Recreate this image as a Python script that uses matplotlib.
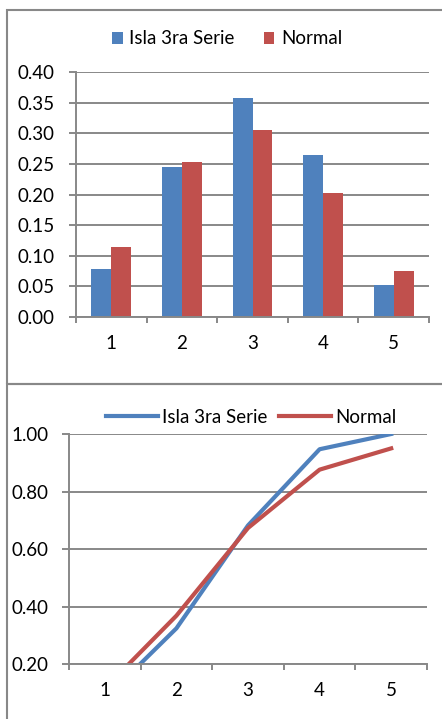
import matplotlib

matplotlib.use("Agg")
import matplotlib.pyplot as plt
import numpy as np
from matplotlib.patches import Rectangle

# values
categories = [1, 2, 3, 4, 5]
series_names = ["Isla 3ra Serie", "Normal"]
isla_pmf = [0.079, 0.245, 0.358, 0.265, 0.053]
normal_pmf = [0.115, 0.253, 0.305, 0.203, 0.075]
isla_cdf = [0.079, 0.324, 0.682, 0.947, 1.000]
normal_cdf = [0.115, 0.368, 0.673, 0.876, 0.950]
bar_ticks = [0.00, 0.05, 0.10, 0.15, 0.20, 0.25, 0.30, 0.35, 0.40]
line_ticks = [0.20, 0.40, 0.60, 0.80, 1.00]

BLUE = "#4F81BD"
RED = "#C0504D"
GRID = "#888888"

W, H = 442, 719
plt.rcParams["font.family"] = ["Lato", "DejaVu Sans"]
plt.rcParams["font.size"] = 13.5

fig = plt.figure(figsize=(W / 100, H / 100), dpi=100)


def px_axes(left, top, right, bottom):
    """Axes placed by pixel box (image coords, y down)."""
    return fig.add_axes([left / W, 1 - bottom / H, (right - left) / W, (bottom - top) / H])


def chart_frame(left, top, right, bottom):
    fig.patches.append(Rectangle((left / W, 1 - bottom / H), (right - left) / W,
                                 (bottom - top) / H, transform=fig.transFigure,
                                 fill=False, edgecolor=GRID, linewidth=1.5))


def style_axes(ax, ticks, fmt, ypad):
    x = np.arange(len(categories))
    ax.set_xlim(-0.5, len(categories) - 0.5)
    ax.set_ylim(ticks[0], ticks[-1])
    ax.set_yticks(ticks)
    ax.set_yticklabels([fmt.format(t) for t in ticks])
    ax.set_xticks(x)
    ax.set_xticklabels([str(c) for c in categories])
    ax.set_xticks(np.arange(len(categories) + 1) - 0.5, minor=True)
    ax.tick_params(axis="x", which="major", length=0, pad=13)
    ax.tick_params(axis="x", which="minor", length=4.3, width=1.4, color=GRID)
    ax.tick_params(axis="y", length=5, width=1.4, color=GRID, pad=ypad)
    ax.grid(axis="y", color=GRID, linewidth=1.4)
    ax.set_axisbelow(True)
    for s in ("top", "right"):
        ax.spines[s].set_visible(False)
    for s in ("left", "bottom"):
        ax.spines[s].set_color(GRID)
        ax.spines[s].set_linewidth(1.4)


# chart borders
chart_frame(7, 10, 460, 384)
chart_frame(7, 384, 460, 740)

# top: probability bars
ax1 = px_axes(76, 72, 429, 317)
x = np.arange(len(categories))
bw = 0.283
ax1.bar(x - bw / 2, isla_pmf, bw, color=BLUE, label=series_names[0])
ax1.bar(x + bw / 2, normal_pmf, bw, color=RED, label=series_names[1])
style_axes(ax1, bar_ticks, "{:.2f}", 10.5)
ax1.legend(loc="center", bbox_to_anchor=(227 / W, 1 - 39 / H), bbox_transform=fig.transFigure,
           ncol=2, frameon=False, handlelength=0.57, handleheight=0.57,
           handletextpad=0.35, columnspacing=1.55, borderpad=0)

# bottom: cumulative lines
ax2 = px_axes(69, 434, 427, 664)
ax2.plot(x, isla_cdf, color=BLUE, linewidth=3, label=series_names[0])
ax2.plot(x, normal_cdf, color=RED, linewidth=3, label=series_names[1])
style_axes(ax2, line_ticks, "{:.2f}", 9.5)
ax2.legend(loc="center", bbox_to_anchor=(251 / W, 1 - 417 / H), bbox_transform=fig.transFigure,
           ncol=2, frameon=False, handlelength=2.8, handletextpad=0.2,
           columnspacing=0.6, borderpad=0)

fig.savefig("out.png", dpi=100)
